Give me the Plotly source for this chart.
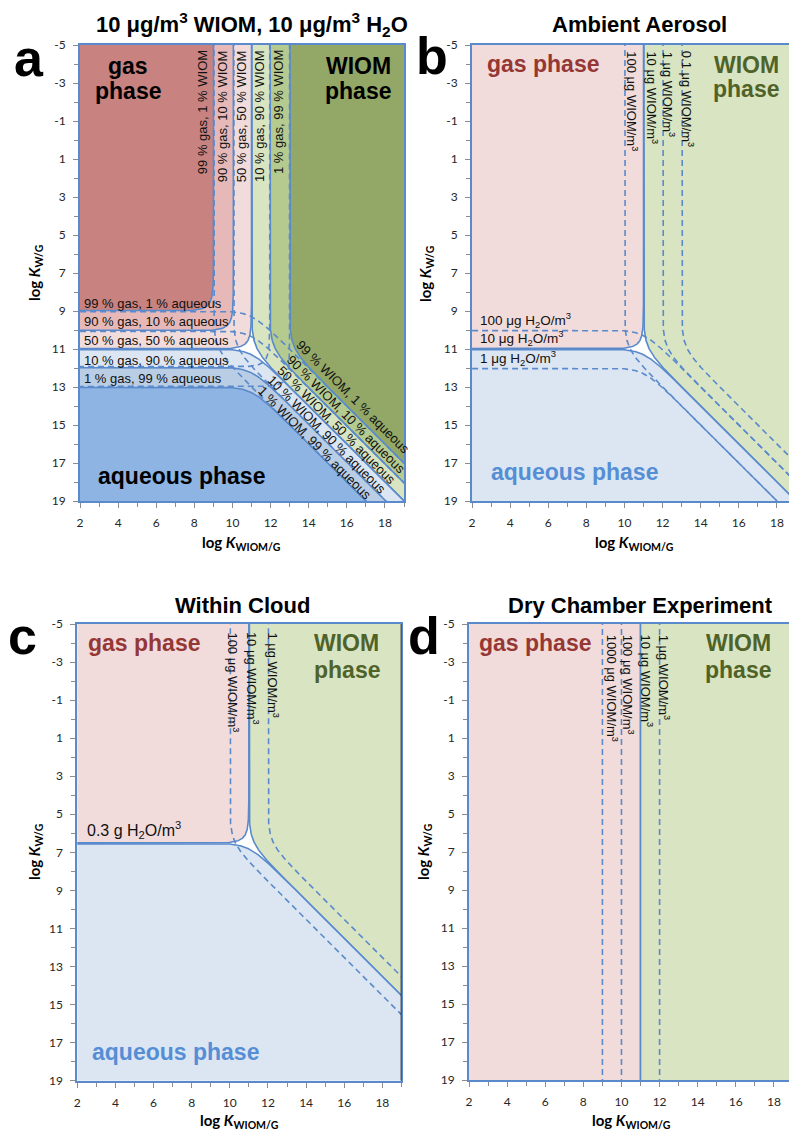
import numpy as np
import plotly.graph_objects as go

W, H = 789, 1134

# ------------------------------------------------------------------ data
X_TICKS = [2, 4, 6, 8, 10, 12, 14, 16, 18]
X_MINOR = list(range(2, 20))
Y_TICKS = [-5, -3, -1, 1, 3, 5, 7, 9, 11, 13, 15, 17, 19]
Y_MINOR = list(range(-5, 20))
X_TICK_TEXT = [str(v) for v in X_TICKS]
Y_TICK_TEXT = [str(v) for v in Y_TICKS]
X_FULL = [2, 19]
Y_FULL = [-5, 19]

# 50 % boundary sits at log K = 11 for a loading of 10 ug/m3
REF_LOGK = 11.0
REF_LOAD = 10.0

PANEL_TITLES = ["10 μg/m<sup>3</sup> WIOM, 10 μg/m<sup>3</sup> H<sub>2</sub>O",
                "Ambient Aerosol", "Within Cloud", "Dry Chamber Experiment"]
PANEL_LETTERS = ["a", "b", "c", "d"]

# panel a : 10 ug/m3 WIOM, 10 ug/m3 water
A_WIOM = 10.0
A_H2O = 10.0
A_REGION_LEVELS = [0.5, 0.9, 0.99]
A_DASHED_LEVELS = [0.01, 0.1]
A_VERT_LABELS = ["99 % gas, 1 % WIOM", "90 % gas, 10 % WIOM", "50 % gas, 50 % WIOM",
                 "10 % gas, 90 % WIOM", "1 % gas, 99 % WIOM"]
A_HORZ_LABELS = ["99 % gas, 1 % aqueous", "90 % gas, 10 % aqueous", "50 % gas, 50 % aqueous",
                 "10 % gas, 90 % aqueous", "1 % gas, 99 % aqueous"]
A_DIAG_LABELS = ["99 % WIOM, 1 % aqueous", "90 % WIOM, 10 % aqueous", "50 % WIOM, 50 % aqueous",
                 "10 % WIOM, 90 % aqueous", "1 % WIOM, 99 % aqueous"]

# panel b : ambient aerosol
B_WIOM = 10.0
B_H2O = 10.0
B_WIOM_ALT = [100.0, 1.0, 0.1]
B_H2O_ALT = [100.0, 1.0]
B_WIOM_LABELS = ["100", "10", "1", "0.1"]
B_H2O_LABELS = ["100", "10", "1"]

# panel c : within cloud (0.3 g/m3 water = 3e5 ug/m3)
C_WIOM = 10.0
C_H2O = 3.0e5
C_WIOM_ALT = [100.0, 1.0]
C_WIOM_LABELS = ["100", "10", "1"]
C_H2O_LABEL = "0.3 g H<sub>2</sub>O/m<sup>3</sup>"

# panel d : dry chamber (no liquid water)
D_WIOM = 10.0
D_H2O = None
D_WIOM_ALT = [1000.0, 100.0, 1.0]
D_WIOM_LABELS = ["1000", "100", "10", "1"]

# ------------------------------------------------------------------ style
LINE = "#5A8ACB"
FRAME = "#5A8ACB"
ARIAL = "Liberation Sans, Arial, sans-serif"
CAL = "Lato, Carlito, sans-serif"
A_GAS_FILL = ["#F2DCDB", "#E6B9B8", "#C8827F"]
A_WIOM_FILL = ["#D9E5C1", "#B5CA8F", "#93A866"]
A_AQ_FILL = ["#DCE6F2", "#B9CDE5", "#8EB4E3"]
GAS_FILL = "#F2DCDB"
WIOM_FILL = "#D9E4C2"
AQ_FILL = "#DCE6F2"
GAS_TXT = "#953735"
WIOM_TXT = "#4F6228"
AQ_TXT = "#558ED5"
DASH = "6px,4px"

# panel pixel geometry: left px at x=2, px at x=19, top px at y=-5, bottom px at y=19
GEOM = [(80.0, 404.0, 45.0, 501.0),
        (472.0, 796.0, 45.0, 501.0),
        (77.3, 401.4, 624.0, 1080.7),
        (469.0, 793.0, 624.0, 1080.0)]

LN10 = np.log(10.0)
STEP = 0.03


def lse(z):
    return np.logaddexp(0.0, np.asarray(z) * LN10) / LN10


def pos50(load):
    return REF_LOGK + np.log10(REF_LOAD) - np.log10(load)


def gas_contour(xs, ys, p):
    L = np.log10(1.0 / p - 1.0)
    if ys is None:
        y = np.arange(-30.0, 45.0, 0.5)
        return np.full_like(y, xs + L), y
    u = np.arange(-30.0, 30.0 + STEP, STEP)
    return xs + L + u - lse(u), ys + L - lse(u)


def wiom_contour(xs, ys, p):
    Q = np.log10(p / (1.0 - p))
    y = np.arange(-30.0, 45.0 + STEP, STEP)
    x = xs + Q + (lse(y - ys) if ys is not None else 0.0 * y)
    return x, y


def aq_contour(xs, ys, p):
    Q = np.log10(p / (1.0 - p))
    x = np.arange(-30.0, 45.0 + STEP, STEP)
    return x, ys + Q + lse(x - xs)


def gas_poly(xs, ys, p):
    x, y = gas_contour(xs, ys, p)
    if ys is None:
        return np.r_[x, -60, -60], np.r_[y, y[-1], y[0]]
    return np.r_[x, -60], np.r_[y, -60]


def wiom_poly(xs, ys, p):
    x, y = wiom_contour(xs, ys, p)
    return np.r_[x, 80, 80], np.r_[y, y[-1], y[0]]


def aq_poly(xs, ys, p):
    x, y = aq_contour(xs, ys, p)
    return np.r_[x, x[-1], x[0]], np.r_[y, 80, 80]


fig = go.Figure()
annotations = []
shapes = []


def axn(i):
    return ("x" if i == 0 else f"x{i+1}"), ("y" if i == 0 else f"y{i+1}")


def add_fill(i, xy, color):
    xa, ya = axn(i)
    fig.add_trace(go.Scatter(x=xy[0], y=xy[1], mode="lines", fill="toself", fillcolor=color,
                             line=dict(color=LINE, width=1.6), xaxis=xa, yaxis=ya,
                             hoverinfo="skip", showlegend=False))


def add_dash(i, xy):
    xa, ya = axn(i)
    fig.add_trace(go.Scatter(x=xy[0], y=xy[1], mode="lines",
                             line=dict(color=LINE, width=1.6, dash=DASH), xaxis=xa, yaxis=ya,
                             hoverinfo="skip", showlegend=False))


def dtext(i, text, x, y, size=13, color="#111111", angle=0, xanchor="center",
          yanchor="middle", bold=False, family=ARIAL):
    xa, ya = axn(i)
    if bold:
        text = f"<b>{text}</b>"
    annotations.append(dict(text=text, x=x, y=y, xref=xa, yref=ya, showarrow=False,
                            textangle=angle, xanchor=xanchor, yanchor=yanchor,
                            font=dict(family=family, size=size, color=color)))


def ptext(text, xp, yp, size, color="black", angle=0, family=ARIAL, bold=True,
          xanchor="center", yanchor="middle"):
    if bold:
        text = f"<b>{text}</b>"
    annotations.append(dict(text=text, x=xp / W, y=1 - yp / H, xref="paper", yref="paper",
                            showarrow=False, textangle=angle, xanchor=xanchor, yanchor=yanchor,
                            font=dict(family=family, size=size, color=color)))


# ---------------- panel a
xs, ys = pos50(A_WIOM), pos50(A_H2O)
for p, c in zip(A_REGION_LEVELS, A_GAS_FILL):
    add_fill(0, gas_poly(xs, ys, p), c)
for p, c in zip(A_REGION_LEVELS, A_WIOM_FILL):
    add_fill(0, wiom_poly(xs, ys, p), c)
for p, c in zip(A_REGION_LEVELS, A_AQ_FILL):
    add_fill(0, aq_poly(xs, ys, p), c)
for p in A_DASHED_LEVELS:
    add_dash(0, gas_contour(xs, ys, p))
    add_dash(0, wiom_contour(xs, ys, p))
    add_dash(0, aq_contour(xs, ys, p))

A_VERT_X = [8.47, 9.47, 10.47, 11.45, 12.45]
for t, x in zip(A_VERT_LABELS, A_VERT_X):
    dtext(0, t, x, -4.85, angle=-90, yanchor="top")
A_HORZ_Y = [8.58, 9.56, 10.56, 11.58, 12.56]
for t, y in zip(A_HORZ_LABELS, A_HORZ_Y):
    dtext(0, t, 2.12, y, xanchor="left")
A_DIAG_D = [2.8, 1.55, 0.45, -0.6, -1.6]
A_DIAG_S = [29.9, 30.4, 30.5, 30.45, 30.3]
for t, d, s in zip(A_DIAG_LABELS, A_DIAG_D, A_DIAG_S):
    dtext(0, t, (s + d) / 2, (s - d) / 2, angle=45)
dtext(0, "gas", 4.52, -3.92, size=23, bold=True, color="black")
dtext(0, "phase", 4.52, -2.56, size=23, bold=True, color="black")
dtext(0, "WIOM", 16.6, -3.92, size=23, bold=True, color="black")
dtext(0, "phase", 16.6, -2.56, size=23, bold=True, color="black")
dtext(0, "aqueous phase", 2.86, 17.68, size=23, bold=True, color="black", xanchor="left")

# ---------------- panel b
xs, ys = pos50(B_WIOM), pos50(B_H2O)
add_fill(1, gas_poly(xs, ys, 0.5), GAS_FILL)
add_fill(1, wiom_poly(xs, ys, 0.5), WIOM_FILL)
add_fill(1, aq_poly(xs, ys, 0.5), AQ_FILL)
for c in B_WIOM_ALT:
    add_dash(1, wiom_contour(pos50(c), ys, 0.5))
for c in B_H2O_ALT:
    add_dash(1, aq_contour(xs, pos50(c), 0.5))
B_WL_X = [10.39, 11.46, 12.31, 13.3]
for t, x in zip(B_WIOM_LABELS, B_WL_X):
    dtext(1, f"{t} μg WIOM/m<sup>3</sup>", x, -4.78, angle=90, yanchor="top")
B_HL_Y = [9.47, 10.44, 11.5]
for t, y in zip(B_H2O_LABELS, B_HL_Y):
    dtext(1, f"{t} μg H<sub>2</sub>O/m<sup>3</sup>", 2.3, y, size=13.5, xanchor="left")
dtext(1, "gas phase", 2.66, -4.02, size=23, bold=True, color=GAS_TXT, xanchor="left")
dtext(1, "WIOM", 16.4, -3.96, size=23, bold=True, color=WIOM_TXT)
dtext(1, "phase", 16.4, -2.67, size=23, bold=True, color=WIOM_TXT)
dtext(1, "aqueous phase", 2.88, 17.47, size=23, bold=True, color=AQ_TXT, xanchor="left")

# ---------------- panel c
xs, ys = pos50(C_WIOM), pos50(C_H2O)
add_fill(2, gas_poly(xs, ys, 0.5), GAS_FILL)
add_fill(2, wiom_poly(xs, ys, 0.5), WIOM_FILL)
add_fill(2, aq_poly(xs, ys, 0.5), AQ_FILL)
for c in C_WIOM_ALT:
    add_dash(2, wiom_contour(pos50(c), ys, 0.5))
C_WL_X = [10.16, 11.21, 12.26]
for t, x in zip(C_WIOM_LABELS, C_WL_X):
    dtext(2, f"{t} μg WIOM/m<sup>3</sup>", x, -4.67, angle=90, yanchor="top")
dtext(2, C_H2O_LABEL, 2.38, 5.83, size=16, xanchor="left")
dtext(2, "gas phase", 2.47, -4.0, size=23, bold=True, color=GAS_TXT, xanchor="left")
dtext(2, "WIOM", 16.13, -4.0, size=23, bold=True, color=WIOM_TXT)
dtext(2, "phase", 16.13, -2.6, size=23, bold=True, color=WIOM_TXT)
dtext(2, "aqueous phase", 2.68, 17.49, size=23, bold=True, color=AQ_TXT, xanchor="left")
shapes.append(dict(type="line", xref="x3", yref="y3", x0=X_FULL[1], x1=X_FULL[1],
                   y0=Y_FULL[0], y1=Y_FULL[1], line=dict(color="#1a1a1a", width=1.5)))

# ---------------- panel d
xs = pos50(D_WIOM)
add_fill(3, gas_poly(xs, None, 0.5), GAS_FILL)
add_fill(3, wiom_poly(xs, None, 0.5), WIOM_FILL)
for c in D_WIOM_ALT:
    add_dash(3, wiom_contour(pos50(c), None, 0.5))
D_WL_X = [9.52, 10.39, 11.32, 12.28]
for t, x in zip(D_WIOM_LABELS, D_WL_X):
    dtext(3, f"{t} μg WIOM/m<sup>3</sup>", x, -4.55, angle=90, yanchor="top")
dtext(3, "gas phase", 2.44, -4.0, size=23, bold=True, color=GAS_TXT, xanchor="left")
dtext(3, "WIOM", 16.12, -4.0, size=23, bold=True, color=WIOM_TXT)
dtext(3, "phase", 16.12, -2.6, size=23, bold=True, color=WIOM_TXT)

# ---------------- axes
layout_axes = {}
for i, (l, r, t, b) in enumerate(GEOM):
    xr = list(X_FULL)
    right = r
    if r > W:
        xr[1] = X_FULL[0] + (X_FULL[1] - X_FULL[0]) * (W - l) / (r - l)
        right = W
    xa = "xaxis" if i == 0 else f"xaxis{i+1}"
    ya = "yaxis" if i == 0 else f"yaxis{i+1}"
    yref = "y" if i == 0 else f"y{i+1}"
    xref = "x" if i == 0 else f"x{i+1}"
    common = dict(showgrid=False, zeroline=False, showline=True, linecolor=FRAME, linewidth=2,
                  ticks="outside", ticklen=5, tickcolor="#8c8c8c", tickwidth=1,
                  tickfont=dict(family=CAL, size=12, color="#262626"), ticklabelstandoff=5,
                  fixedrange=True)
    layout_axes[xa] = dict(common, domain=[l / W, min(right / W, 1.0)], range=xr, anchor=yref,
                           tickmode="array", tickvals=X_TICKS, ticktext=X_TICK_TEXT, mirror=True,
                           minor=dict(tickmode="array", tickvals=X_MINOR, ticks="outside",
                                      ticklen=4, tickcolor="#8c8c8c"))
    layout_axes[ya] = dict(common, domain=[1 - b / H, 1 - t / H], range=[Y_FULL[1], Y_FULL[0]],
                           anchor=xref, tickmode="array", tickvals=Y_TICKS, ticktext=Y_TICK_TEXT,
                           mirror=(r <= W),
                           minor=dict(tickmode="array", tickvals=Y_MINOR, ticks="outside",
                                      ticklen=4, tickcolor="#8c8c8c"))

# titles, letters, axis titles
TITLE_POS = [(252, 24), (639, 24), (242.5, 605), (640.5, 605.5)]
for t, (xp, yp) in zip(PANEL_TITLES, TITLE_POS):
    ptext(t, xp, yp, 22)
LETTER_POS = [(29, 58), (431.5, 56), (22.5, 636), (424, 636)]
for t, (xp, yp) in zip(PANEL_LETTERS, LETTER_POS):
    ptext(t, xp, yp, 52)
XT = "log <i>K</i><sub>WIOM/G</sub>"
YT = "log <i>K</i><sub>W/G</sub>"
for xp, yp in [(242, 543), (634, 543), (239, 1121), (631, 1121)]:
    ptext(XT, xp, yp, 15, family=CAL)
for xp, yp in [(35, 273), (426, 273), (35, 852), (424, 852)]:
    ptext(YT, xp, yp, 15, family=CAL, angle=-90)

fig.update_layout(width=W, height=H, margin=dict(l=0, r=0, t=0, b=0, autoexpand=False),
                  paper_bgcolor="white", plot_bgcolor="white", showlegend=False,
                  annotations=annotations, shapes=shapes, **layout_axes)

fig.write_html("out.html")
